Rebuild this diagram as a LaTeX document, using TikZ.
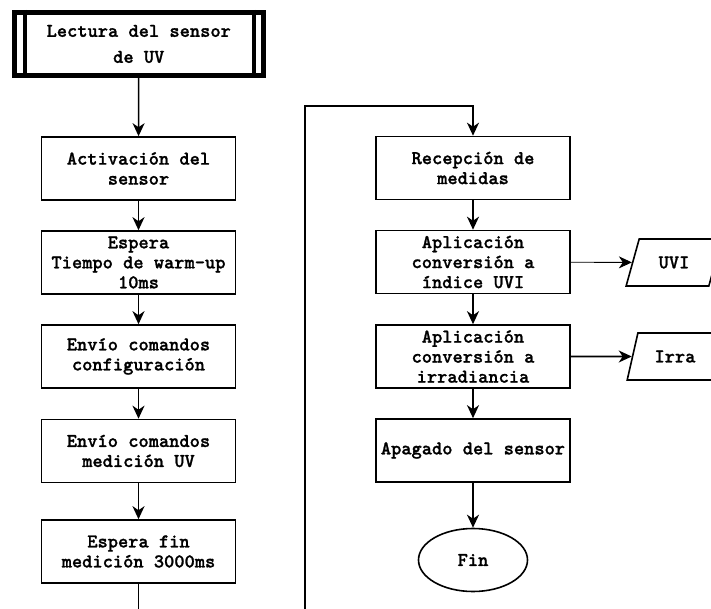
\documentclass[tikz,border=0pt]{standalone}
\usepackage{fontspec}
\setmainfont{lmmonolt10-bold}[Extension=.otf, RawFeature={embolden=1.2}]
\usetikzlibrary{arrows.meta, shapes.geometric}

\begin{document}
\begin{tikzpicture}[x=1pt, y=-1pt]
		\tikzset{box/.style={rectangle, draw, line width=1.6pt, minimum width=194pt, minimum height=63pt, align=center, inner sep=2pt, font=\fontsize{19.5}{20}\selectfont}}
		\tikzset{start/.style={box, line width=5pt, minimum width=248.5pt, minimum height=63pt, font=\fontsize{19.5}{26}\selectfont}}
		\tikzset{endnode/.style={box, ellipse, minimum width=109pt, minimum height=63pt}}
		\tikzset{datanode/.style={box, trapezium, trapezium left angle=68, trapezium right angle=112, trapezium stretches=true, minimum width=96pt, minimum height=47pt}}
		\tikzset{ar/.style={-{Stealth[length=13pt, width=12pt, inset=4pt]}, line width=1.6pt}}
		\useasboundingbox (0,0) rectangle (711,609);
		\node[start] at (138.75, 44) (lect) {Lectura del sensor\\de UV};
		\draw[line width=4pt] ([xshift=12.5pt]lect.north west) -- ([xshift=12.5pt]lect.south west);
		\draw[line width=4pt] ([xshift=-12pt]lect.north east) -- ([xshift=-12pt]lect.south east);
		\node[box] at (138.5, 168.5) (act) {Activación del\\sensor};
		\node[box] at (138.5, 262.5) (warm) {Espera\\Tiempo de warm-up\\10ms};
		\node[box] at (138.5, 356.5) (conf) {Envío comandos\\configuración};
		\node[box] at (138.5, 451) (med) {Envío comandos\\medición UV};
		\node[box] at (138.5, 551.5) (esp) {Espera fin\\medición 3000ms};
		\node[box] at (473, 168) (rec) {Recepción de\\medidas};
		\node[box] at (473, 262) (uvi) {Aplicación\\conversión a\\índice UVI};
		\node[box] at (473, 356.5) (irr) {Aplicación\\conversión a\\irradiancia};
		\node[box] at (473, 450.5) (apag) {Apagado del sensor};
		\node[endnode] at (473, 560) (fin) {Fin};
		\node[datanode] at (674, 262.5) (duvi) {UVI};
		\node[datanode] at (675, 356.5) (dirr) {Irra};
		\coordinate (c1) at (138.5, 611);
		\coordinate (c2) at (305, 611);
		\coordinate (c3) at (305, 106);
		\coordinate (c4) at (473, 106);
		\path[ar] (lect) edge (act);
		\path[ar] (act) edge (warm);
		\path[ar] (warm) edge (conf);
		\path[ar] (conf) edge (med);
		\path[ar] (med) edge (esp);
		\draw[line width=1.6pt] (esp) -- (c1);
		\draw[ar] (c2) -- (c3) -- (c4) -- (rec);
		\path[ar] (rec) edge (uvi);
		\path[ar] (uvi) edge (irr);
		\path[ar] (irr) edge (apag);
		\path[ar] (apag) edge (fin);
		\path[ar, line width=0.9pt] (uvi) edge (duvi);
		\path[ar] (irr) edge (dirr);
	\end{tikzpicture}
\end{document}
